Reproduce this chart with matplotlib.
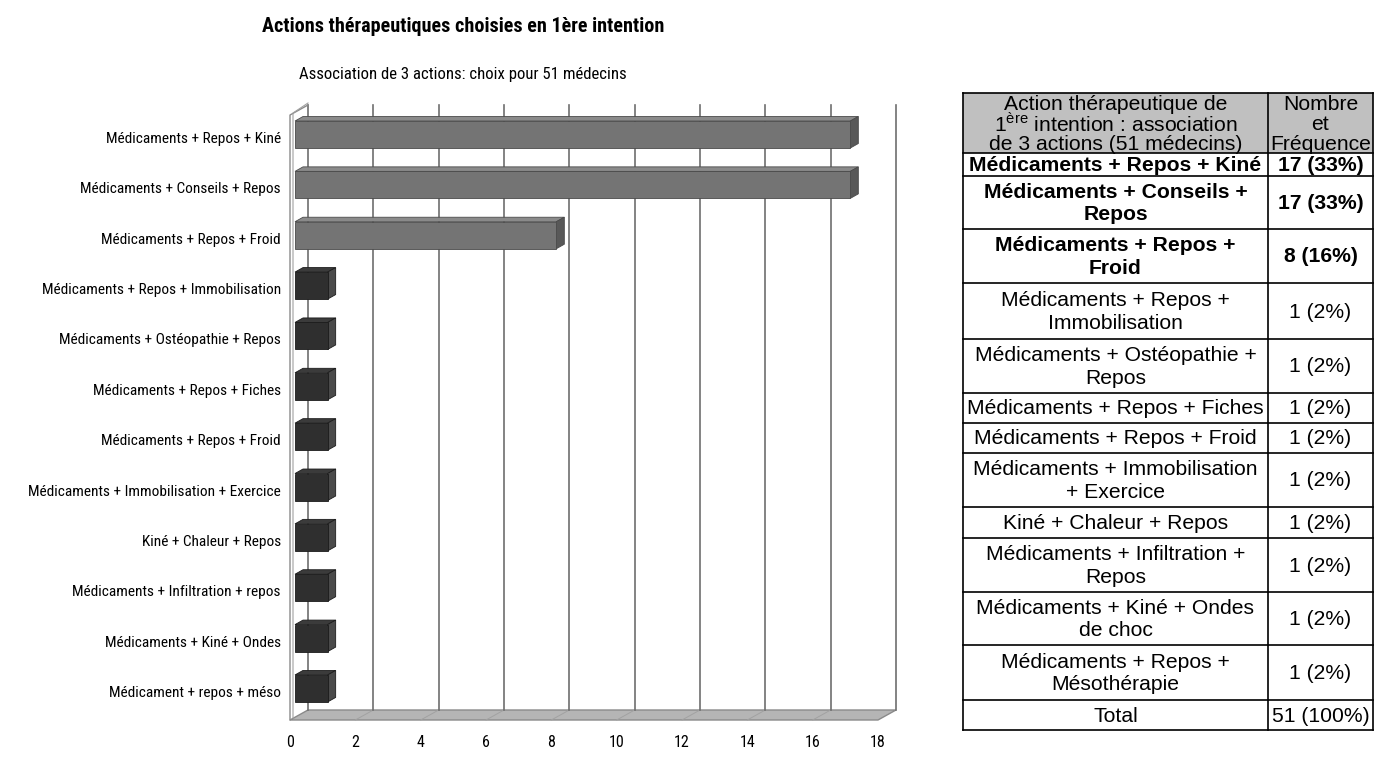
import matplotlib
matplotlib.use("Agg")
import matplotlib.pyplot as plt
from matplotlib.patches import Polygon, Rectangle
from matplotlib.lines import Line2D
from matplotlib import font_manager

plt.rcParams["font.family"] = ["Liberation Sans", "DejaVu Sans"]
plt.rcParams["mathtext.fontset"] = "custom"
plt.rcParams["mathtext.rm"] = "Liberation Sans"

# ---------------- data ----------------
title = "Actions thérapeutiques choisies en 1ère intention"
subtitle = "Association de 3 actions: choix pour 51 médecins"
categories = [
    "Médicaments + Repos + Kiné",
    "Médicaments + Conseils + Repos",
    "Médicaments + Repos + Froid",
    "Médicaments + Repos + Immobilisation",
    "Médicaments + Ostéopathie + Repos",
    "Médicaments + Repos + Fiches",
    "Médicaments + Repos + Froid",
    "Médicaments + Immobilisation + Exercice",
    "Kiné + Chaleur + Repos",
    "Médicaments + Infiltration + repos",
    "Médicaments + Kiné + Ondes",
    "Médicament + repos + méso",
]
counts = [17, 17, 8, 1, 1, 1, 1, 1, 1, 1, 1, 1]
xticks = [0, 2, 4, 6, 8, 10, 12, 14, 16, 18]

table_header = ["Action thérapeutique de",
                "1$^{\\mathrm{ère}}$ intention : association",
                "de 3 actions (51 médecins)"]
table_header2 = ["Nombre", "et", "Fréquence"]
table_labels = [
    "Médicaments + Repos + Kiné",
    "Médicaments + Conseils +\nRepos",
    "Médicaments + Repos +\nFroid",
    "Médicaments + Repos +\nImmobilisation",
    "Médicaments + Ostéopathie +\nRepos",
    "Médicaments + Repos + Fiches",
    "Médicaments + Repos + Froid",
    "Médicaments + Immobilisation\n+ Exercice",
    "Kiné + Chaleur + Repos",
    "Médicaments + Infiltration +\nRepos",
    "Médicaments + Kiné + Ondes\nde choc",
    "Médicaments + Repos +\nMésothérapie",
]
table_counts = [17, 17, 8, 1, 1, 1, 1, 1, 1, 1, 1, 1]
n_doctors = 51
bold_rows = 3

# condensed font for the chart part (the original uses a narrow sans)
names = {f.name for f in font_manager.fontManager.ttflist}
cfam, k = ["Liberation Sans", "DejaVu Sans"], 0.84
for cand in ("Roboto Condensed", "Liberation Sans Narrow", "Open Sans Condensed"):
    if cand in names:
        cfam, k = [cand, "DejaVu Sans"], 1.0
        break

# ---------------- figure ----------------
W, H = 1378, 760
fig = plt.figure(figsize=(W / 100, H / 100), dpi=100)
fig.patch.set_facecolor("white")

fig.text(463 / W, 1 - 27 / H, title, ha="center", va="center",
         fontsize=14.5 * k, fontweight="bold", family=cfam)
fig.text(463 / W, 1 - 75 / H, subtitle, ha="center", va="center",
         fontsize=12.1 * k, family=cfam)

# chart axes: front plane
ax_l, ax_r, ax_t, ax_b = 290, 878, 115, 720
ax = fig.add_axes([ax_l / W, 1 - ax_b / H, (ax_r - ax_l) / W, (ax_b - ax_t) / H])
xmax = 18
ytop, ybot = -0.447, 11.567
ax.set_xlim(0, xmax)
ax.set_ylim(ybot, ytop)
for s in ax.spines.values():
    s.set_visible(False)
ax.set_facecolor("none")

sx = (ax_r - ax_l) / xmax
sy = (ax_b - ax_t) / (ybot - ytop)


def off(px, py):
    return px / sx, -py / sy


bx, by = off(18, 10)

# floor
floor = Polygon([(0, ybot), (xmax, ybot), (xmax + bx, ybot + by), (bx, ybot + by)],
                closed=True, facecolor="#b5b5b5", edgecolor="#8a8a8a", lw=1,
                clip_on=False, zorder=1)
ax.add_patch(floor)
for t in xticks[1:-1]:
    ax.add_line(Line2D([t, t + bx], [ybot, ybot + by], color="#a2a2a2", lw=0.7,
                       clip_on=False, zorder=1.1))

# back wall grid lines
for t in xticks:
    ax.add_line(Line2D([t + bx, t + bx], [ybot + by, ytop + by], color="#6e6e6e",
                       lw=1.2, clip_on=False, zorder=1.2))

# left wall
wx, _ = off(3, 0)
_, wy = off(0, 2)
ax.add_line(Line2D([0, 0, bx], [ybot, ytop, ytop + by], color="#8a8a8a", lw=1,
                   clip_on=False, zorder=1.3))
ax.add_line(Line2D([wx, wx, bx], [ybot + wy, ytop + wy, ytop + by + wy],
                   color="#a0a0a0", lw=0.8, clip_on=False, zorder=1.3))

# bars
d1x, d1y = off(5, 3)
ddx, ddy = off(8, 4.5)
bar_h = 27 / sy
for i, v in enumerate(counts):
    hi = v > 1
    front_c = "#747474" if hi else "#2f2f2f"
    top_c = "#8a8a8a" if hi else "#3b3b3b"
    side_c = "#585858" if hi else "#4a4a4a"
    edge_c = "#4a4a4a" if hi else "#1c1c1c"
    x0 = d1x
    x1 = v + d1x
    yt = i - bar_h / 2 + d1y
    yb = i + bar_h / 2 + d1y
    ax.add_patch(Polygon([(x0, yt), (x1, yt), (x1 + ddx, yt + ddy), (x0 + ddx, yt + ddy)],
                         closed=True, facecolor=top_c, edgecolor=edge_c, lw=0.6,
                         clip_on=False, zorder=3))
    ax.add_patch(Polygon([(x1, yt), (x1, yb), (x1 + ddx, yb + ddy), (x1 + ddx, yt + ddy)],
                         closed=True, facecolor=side_c, edgecolor=edge_c, lw=0.6,
                         clip_on=False, zorder=3))
    ax.add_patch(Rectangle((x0, yt), v, yb - yt, facecolor=front_c, edgecolor=edge_c,
                           lw=0.6, clip_on=False, zorder=4))

ax.set_xticks(xticks)
ax.set_xticklabels([str(t) for t in xticks], fontsize=11.5 * k, family=cfam)
ax.set_yticks(range(len(categories)))
ax.set_yticklabels(categories, fontsize=11.1 * k, family=cfam)
ax.tick_params(axis="x", length=0, pad=11)
ax.tick_params(axis="y", length=0, pad=6.5)

# ---------------- table ----------------
tax = fig.add_axes([0, 0, 1, 1])
tax.set_xlim(0, W)
tax.set_ylim(H, 0)
tax.axis("off")
tax.set_facecolor("none")

tl, tm, tr = 963, 1268, 1373
rows_y = [93, 153, 176, 229, 283, 339, 393, 423, 453, 507, 538, 592, 645, 700, 730]
fs = 15.2
tax.add_patch(Rectangle((tl, rows_y[0]), tr - tl, rows_y[1] - rows_y[0],
                        facecolor="#c0c0c0", edgecolor="none", zorder=1))
for y in rows_y:
    tax.plot([tl, tr], [y, y], color="black", lw=1.2, zorder=2, solid_capstyle="projecting")
for x in (tl, tm, tr):
    tax.plot([x, x], [rows_y[0], rows_y[-1]], color="black", lw=1.2, zorder=2,
             solid_capstyle="projecting")

hc = (rows_y[0] + rows_y[1]) / 2 + 1
lsp = 20
for j, line in enumerate(table_header):
    tax.text((tl + tm) / 2, hc + (j - 1) * lsp, line, ha="center", va="center",
             fontsize=fs)
for j, line in enumerate(table_header2):
    tax.text((tm + tr) / 2, hc + (j - 1) * lsp, line, ha="center", va="center",
             fontsize=fs)

rows = table_labels + ["Total"]
vals = [f"{n} ({round(100 * n / n_doctors)}%)" for n in table_counts] + \
       [f"{n_doctors} (100%)"]
for r, (lab, val) in enumerate(zip(rows, vals)):
    yc = (rows_y[r + 1] + rows_y[r + 2]) / 2
    fw = "bold" if r < bold_rows else "normal"
    tax.text((tl + tm) / 2, yc + 1, lab, ha="center", va="center", fontsize=fs,
             fontweight=fw, linespacing=1.22)
    tax.text((tm + tr) / 2, yc + 1, val, ha="center", va="center", fontsize=fs,
             fontweight=fw)

fig.savefig("out.png", dpi=100, facecolor="white")
